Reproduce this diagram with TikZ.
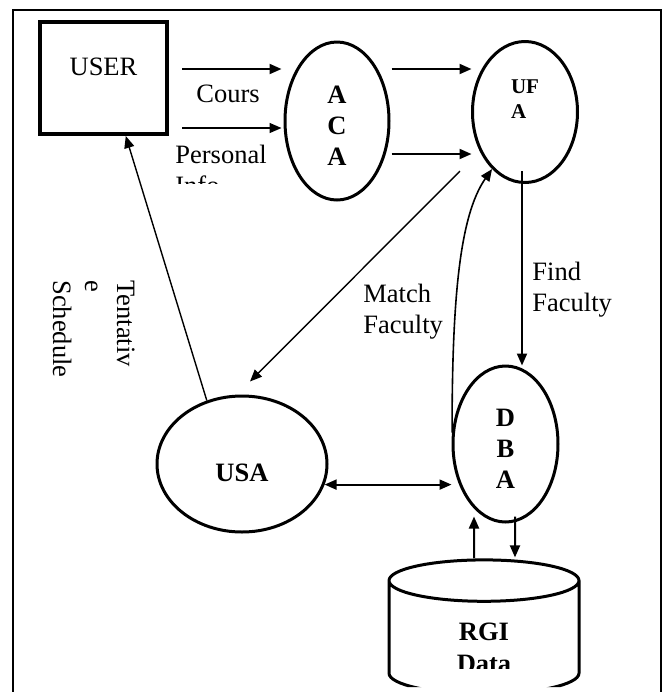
\documentclass[tikz,border=0pt]{standalone}
\usepackage{fontspec}
\setmainfont{Liberation Serif}
\usepackage{tikz}
\usetikzlibrary{
  arrows.meta, positioning, calc, shapes.geometric
}
\newcommand{\flowfont}{\fontsize{13.25}{15.5}\selectfont}
\tikzset{
  ext/.style={
    draw, rectangle, line width=2pt, inner sep=0pt, font=\flowfont
  },
  proc/.style={
    draw, ellipse, line width=1.5pt, align=center,
    inner sep=0pt, font=\flowfont\bfseries
  },
  store/.style={
    draw, cylinder, shape border rotate=90, aspect=0.69,
    text width=30pt, text height=0pt, text depth=0pt,
    line width=1.5pt, inner sep=0pt
  },
  storetext/.style={
    align=center, inner sep=0pt,
    font=\fontsize{13.25}{16}\selectfont\bfseries
  },
  lbl/.style={inner sep=0pt, align=left, font=\flowfont},
  arrow/.style={-{Triangle[length=6pt, width=5pt]}, line width=1pt},
  thinarrow/.style={-{Triangle[length=6pt, width=5pt]}, line width=0.7pt},
  dblarrow/.style={{Triangle[length=6pt, width=5pt]}-{Triangle[length=6pt, width=5pt]}, line width=1pt}
}

\begin{document}
\begin{tikzpicture}[x=0.5pt, y=-0.5pt]
  \useasboundingbox[fill=white] (0,0) rectangle (665,692);
  % outer frame, open at the bottom
  \draw[line width=1.3pt] (13,700) -- (13,10) -- (661,10) -- (661,700);

  \node[ext, minimum width=63.5pt, minimum height=56pt,
    text height=9pt, text depth=11.3pt] (user) at (103.5,78) {USER};
  \node[proc, minimum width=52pt, minimum height=79pt,
    text height=44pt, text depth=0pt] (aca) at (337,121) {A\\C\\A};
  \node[proc, minimum width=52.5pt, minimum height=70.5pt, align=left,
    font=\fontsize{10.5}{12.5}\selectfont\bfseries,
    text height=8pt, text depth=2pt] (ufa) at (525,112) {UF\\A};
  \node[proc, minimum width=85pt, minimum height=68pt,
    text height=17pt, text depth=0pt] (usa) at (242,464) {USA};
  \node[proc, minimum width=52.5pt, minimum height=78pt,
    text height=44pt, text depth=0pt] (dba) at (505.5,444) {D\\B\\A};
  \begin{scope}
    \clip (0,0) rectangle (665,668) (380,668) rectangle (397,687)
      (571,668) rectangle (590,687) (380,676) rectangle (590,687);
    \node[store, minimum width=95pt, minimum height=67pt,
      label={[name=rgitext, storetext, yshift=-4.75pt]center:{RGI\\Data}}]
      (rgi) at (484,638) {};
  \end{scope}

  % labels
  \node[lbl, anchor=base west] (cours) at (196,102) {Cours};
  \begin{scope}
    \clip (150,120) rectangle (290,183);
    \node[lbl, anchor=north west] (pinfo) at (175,145) {Personal\\Info};
  \end{scope}
  \node[lbl, rotate=-90, anchor=north west,
    font=\fontsize{13.25}{16}\selectfont] (tent) at (135,280) {Tentativ\\e\\Schedule};
  \node[lbl, anchor=north west] (match) at (363,284) {Match\\Faculty};
  \node[lbl, anchor=north west] (find) at (532,262) {Find\\Faculty};

  % flows
  \draw[arrow] ($(user.east)+(13,-9)$) -- ($(aca.west)+(-2,-52)$);
  \draw[thinarrow] ($(user.east)+(13,50)$) -- ($(aca.west)+(-2,7)$);
  \draw[arrow] ($(aca.east)+(1,-52)$) -- ($(ufa.west)+(0.5,-43)$);
  \draw[arrow] ($(aca.east)+(1,33)$) -- ($(ufa.west)+(0.5,42)$);
  \draw[arrow] ($(ufa.south)+(-3,-13)$) -- ($(dba.north)+(16.5,1)$);
  \draw[thinarrow] ($(ufa.south)+(-65,-13)$) -- ($(usa.north)+(8,-13)$);
  \draw[arrow, line width=0.8pt] (dba.168) .. controls +(0,-130) and +(-33,47) .. (ufa.-120);
  \draw[thinarrow] (usa.119) -- (user.-69);
  \draw[dblarrow] (usa.-14) -- (usa.-14 -| dba.west);
  \draw[arrow] ($(rgi.north)+(-10,0)$) -- ($(dba.south)+(-31.5,-7)$);
  \draw[arrow] ($(dba.south)+(9.5,-7)$) -- ($(rgi.north)+(31,-1)$);
\end{tikzpicture}
\end{document}
